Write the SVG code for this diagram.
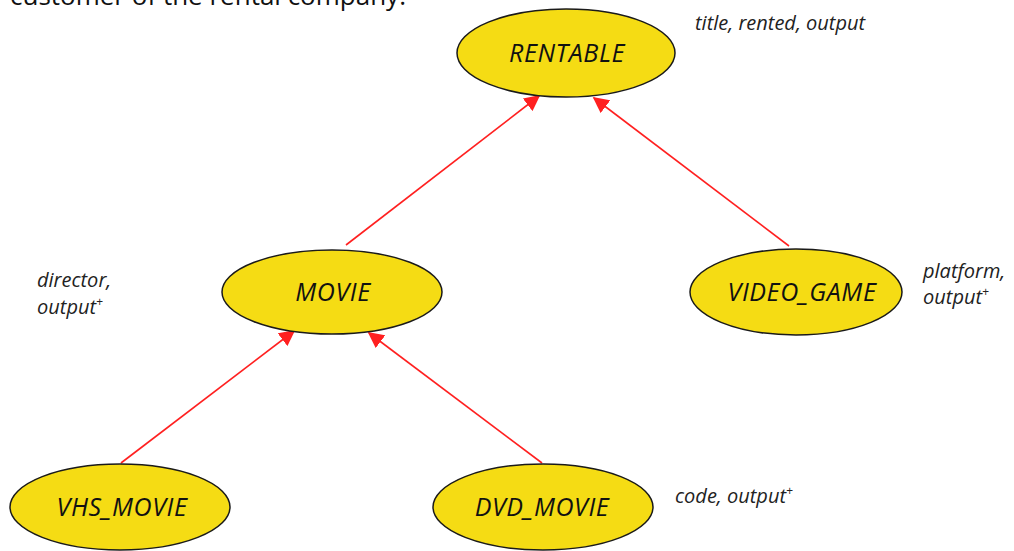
<svg xmlns="http://www.w3.org/2000/svg" width="1014" height="551" viewBox="0 0 1014 551">
<style>
.node ellipse{fill:#F5DC14;stroke:#1a1a1a;stroke-width:1.5}
.node text{font-family:"Open Sans","Noto Sans",sans-serif;font-style:italic;font-size:25px;letter-spacing:0.6px;fill:#111;text-anchor:middle}
.note{font-family:"Open Sans","Noto Sans",sans-serif;font-style:italic;font-size:20px;fill:#222}
.sup{font-size:12px}
.edge{stroke:#FF2020;stroke-width:1.6;fill:none;marker-end:url(#ah)}
</style>
<defs>
<marker id="ah" viewBox="0 0 10 10" refX="9" refY="5" markerWidth="16" markerHeight="16" markerUnits="userSpaceOnUse" orient="auto">
<path d="M0,0 L10,5 L0,10 z" fill="#FF2020"/>
</marker>
</defs>
<text x="10" y="5" font-family="Open Sans, sans-serif" font-size="26" fill="#111">customer of the rental company.</text>
<g id="connectors">
<line class="edge" x1="346" y1="245" x2="539" y2="96"/>
<line class="edge" x1="789" y1="246" x2="594" y2="98"/>
<line class="edge" x1="121" y1="463" x2="294" y2="331"/>
<line class="edge" x1="542" y1="463" x2="369" y2="333"/>
</g>
<g id="rentable" class="node"><ellipse cx="566" cy="53" rx="109" ry="44"/><text x="567" y="62">RENTABLE</text></g>
<g id="movie" class="node"><ellipse cx="332" cy="292" rx="110" ry="42"/><text x="333" y="301">MOVIE</text></g>
<g id="video_game" class="node"><ellipse cx="796" cy="292" rx="106" ry="43"/><text x="802" y="301">VIDEO_GAME</text></g>
<g id="vhs_movie" class="node"><ellipse cx="120" cy="507" rx="110" ry="43"/><text x="122" y="516">VHS_MOVIE</text></g>
<g id="dvd_movie" class="node"><ellipse cx="543" cy="507" rx="110" ry="43"/><text x="542" y="516">DVD_MOVIE</text></g>
<g id="notes">
<text class="note" x="695" y="30">title, rented, output</text>
<text class="note" x="37" y="287">director,</text>
<text class="note" x="37" y="314">output<tspan class="sup" dy="-8">+</tspan></text>
<text class="note" x="923" y="278">platform,</text>
<text class="note" x="923" y="304">output<tspan class="sup" dy="-8">+</tspan></text>
<text class="note" x="675" y="503">code, output<tspan class="sup" dy="-8">+</tspan></text>
</g>
</svg>
